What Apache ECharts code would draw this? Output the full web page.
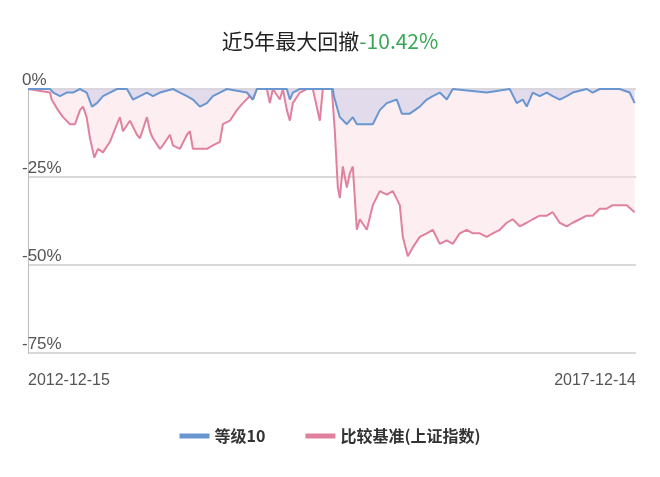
<!DOCTYPE html>
<html><head><meta charset="utf-8">
<script src="https://cdn.jsdelivr.net/npm/echarts@6/dist/echarts.min.js"></script>
<style>html,body{margin:0;background:#fff}#c{width:660px;height:477px}</style>
</head><body><div id="c"></div>
<script>
const startDate = '2012-12-15', endDate = '2017-12-14';
const totalDays = 1825;
const benchDays = [0,6,66,71,90,105,126,141,156,165,176,186,199,210,225,246,267,276,285,306,327,336,357,366,375,396,405,426,435,456,477,486,495,516,537,555,576,585,606,627,645,666,675,687,717,726,735,756,765,777,786,795,816,837,855,876,885,912,921,930,936,945,957,966,975,987,996,1017,1035,1056,1077,1095,1116,1125,1140,1155,1176,1197,1215,1236,1257,1275,1296,1317,1335,1356,1377,1395,1416,1437,1455,1476,1497,1515,1536,1557,1575,1596,1617,1635,1656,1677,1695,1716,1737,1755,1776,1797,1821];
const benchVals = [0,-0.5,-1,-3,-6,-8,-10,-10,-6,-5,-8,-14,-19.5,-17,-18,-15,-10,-8,-12,-9,-13,-14,-8,-12,-14,-17,-16,-13,-16,-17,-13,-12,-17,-17,-17,-16,-15,-10,-9,-6,-4,-2,-3,0,0,-4,0,-3,0,-6,-9,-4,-1,0,0,-9,0,0,-12,-28,-31,-22,-28,-24,-22,-40,-37,-40,-33,-29,-30,-29,-33,-42,-47.5,-45,-42,-41,-40,-44,-43,-44,-41,-40,-41,-41,-42,-41,-40,-38,-37,-39,-38,-37,-36,-36,-35,-38,-39,-38,-37,-36,-36,-34,-34,-33,-33,-33,-35];
const fundDays = [0,6,66,76,96,116,135,156,176,192,207,225,246,267,297,315,336,357,375,396,435,456,477,495,516,537,555,576,597,657,675,687,777,786,795,816,915,918,936,957,975,987,1035,1056,1077,1107,1122,1146,1176,1197,1215,1236,1257,1275,1377,1446,1467,1485,1497,1515,1536,1557,1575,1596,1617,1635,1677,1695,1716,1776,1806,1821];
const fundVals = [0,0,0,-1,-2,-1,-1,0,-1,-5,-4,-2,-1,0,0,-3,-2,-1,-2,-1,0,-1,-2,-3,-5,-4,-2,-1,0,-1,-3,0,0,-3,-1,0,0,-2,-8,-10,-8,-10,-10,-6,-4,-3,-7,-7,-5,-3,-2,-1,-3,0,-1,0,-4,-3,-5,-1,-2,-1,-2,-3,-2,-1,0,-1,0,0,-1,-4];
const yTicks = [-75,-50,-25,0];
const fundName = '等级10', benchName = '比较基准(上证指数)';
const pair = (d, v) => d.map((x, i) => [x, v[i]]);
const chart = echarts.init(document.getElementById('c'));
chart.setOption({
  animation: false,
  title: { left: 'center', top: 26, text: '{a|近5年最大回撤}{b|-10.42%}',
    textStyle: { rich: { a: { fontSize: 21, color: '#222', fontWeight: 'normal', fontFamily: 'Noto Sans CJK SC' }, b: { fontSize: 21, color: '#3aa757', fontWeight: 'normal', fontFamily: 'Noto Sans CJK SC' } } } },
  legend: { bottom: 28, itemGap: 40, icon: 'rect', itemWidth: 30, itemHeight: 5,
    textStyle: { fontSize: 16, color: '#333', fontWeight: 'bold', fontFamily: 'Noto Sans CJK SC' },
    data: [fundName, benchName] },
  grid: { left: 28, right: 24, top: 89, bottom: 124 },
  xAxis: { type: 'value', min: 0, max: totalDays, interval: totalDays,
    axisLine: { show: false }, axisTick: { show: false }, splitLine: { show: false },
    axisLabel: { margin: 20, fontSize: 16, color: '#555', alignMinLabel: 'left', alignMaxLabel: 'right',
      formatter: v => v === 0 ? startDate : endDate } },
  yAxis: { type: 'value', min: yTicks[0], max: yTicks[3], interval: 25,
    axisLine: { show: true, lineStyle: { color: '#bbb' } }, axisTick: { show: false },
    splitLine: { lineStyle: { color: '#ccc', width: 1.5 } },
    axisLabel: { inside: true, verticalAlign: 'bottom', margin: -6, fontSize: 17, color: '#555', formatter: v => v + '%' } },
  series: [
    { name: benchName, type: 'line', showSymbol: false, z: 2, data: pair(benchDays, benchVals),
      lineStyle: { color: '#e0829f', width: 2 }, itemStyle: { color: '#e0829f' },
      areaStyle: { color: 'rgba(252,222,230,0.75)', origin: 'end' } },
    { name: fundName, type: 'line', showSymbol: false, z: 3, data: pair(fundDays, fundVals),
      lineStyle: { color: '#6a96d0', width: 2 }, itemStyle: { color: '#6a96d0' },
      areaStyle: { color: 'rgba(205,205,232,0.8)', origin: 'end' } }
  ]
});
</script></body></html>
